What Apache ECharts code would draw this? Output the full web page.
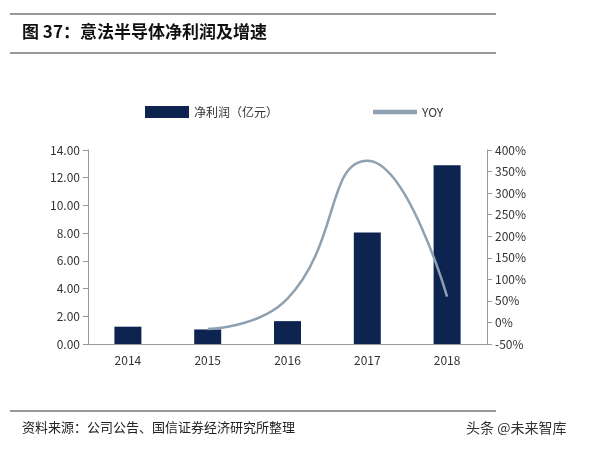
<!DOCTYPE html>
<html>
<head>
<meta charset="utf-8">
<script src="https://cdn.jsdelivr.net/npm/echarts@6/dist/echarts.min.js"></script>
<style>
  html, body { margin: 0; padding: 0; background: #fff; }
  #main { width: 599px; height: 451px; }
</style>
</head>
<body>
<div id="main"></div>
<script>
// data
var years = ['2014', '2015', '2016', '2017', '2018'];
var profit = [1.25, 1.05, 1.65, 8.05, 12.9];
var yoy = [null, -15, 55, 375, 60];
var leftTicks = { min: 0, max: 14, interval: 2 };
var rightTicks = { min: -50, max: 400, interval: 50 };

var chart = echarts.init(document.getElementById('main'));
var font = '"Noto Sans CJK SC", sans-serif';

chart.setOption({
  animation: false,
  textStyle: { fontFamily: font },
  graphic: [
    { type: 'line', shape: { x1: 10, y1: 14, x2: 496, y2: 14 }, style: { stroke: '#777', lineWidth: 1.5 } },
    { type: 'line', shape: { x1: 10, y1: 53, x2: 496, y2: 53 }, style: { stroke: '#777', lineWidth: 1.5 } },
    { type: 'text', left: 22, top: 23, style: { text: '图 37：意法半导体净利润及增速', font: 'bold 17px ' + font, fill: '#111' } },
    { type: 'line', shape: { x1: 10, y1: 411, x2: 496, y2: 411 }, style: { stroke: '#777', lineWidth: 1.5 } },
    { type: 'text', left: 22, top: 421, style: { text: '资料来源：公司公告、国信证券经济研究所整理', font: '13px ' + font, fill: '#222' } },
    { type: 'text', left: 466, top: 421, style: { text: '头条 @未来智库', font: '14px ' + font, fill: '#333' } }
  ],
  legend: {
    top: 101,
    left: 140,
    itemGap: 95,
    itemWidth: 44,
    itemHeight: 12,
    textStyle: { fontSize: 12, color: '#333' },
    data: [
      { name: '净利润（亿元）', icon: 'rect' },
      { name: 'YOY', icon: 'path://M0,0 H10 V1 H0 Z' }
    ]
  },
  grid: { left: 88, right: 112, top: 150, bottom: 107 },
  xAxis: {
    type: 'category',
    data: years,
    axisLine: { lineStyle: { color: '#999' } },
    axisTick: { show: false },
    axisLabel: { color: '#333', fontSize: 12, margin: 10 }
  },
  yAxis: [
    {
      type: 'value', min: leftTicks.min, max: leftTicks.max, interval: leftTicks.interval,
      splitLine: { show: false },
      axisLine: { show: true, lineStyle: { color: '#999' } },
      axisTick: { show: true, lineStyle: { color: '#999' } },
      axisLabel: { color: '#333', fontSize: 12, formatter: function (v) { return v.toFixed(2); } }
    },
    {
      type: 'value', min: rightTicks.min, max: rightTicks.max, interval: rightTicks.interval,
      splitLine: { show: false },
      axisLine: { show: true, lineStyle: { color: '#999' } },
      axisTick: { show: true, lineStyle: { color: '#999' } },
      axisLabel: { color: '#333', fontSize: 12, formatter: '{value}%' }
    }
  ],
  series: [
    {
      name: '净利润（亿元）', type: 'bar', data: profit, barWidth: 27,
      itemStyle: { color: '#0d2350' }
    },
    {
      name: 'YOY', type: 'line', yAxisIndex: 1, data: yoy, smooth: 0.5,
      showSymbol: false, lineStyle: { color: '#8ea1b2', width: 2.5 },
      itemStyle: { color: '#8ea1b2' }
    }
  ]
});
</script>
</body>
</html>
